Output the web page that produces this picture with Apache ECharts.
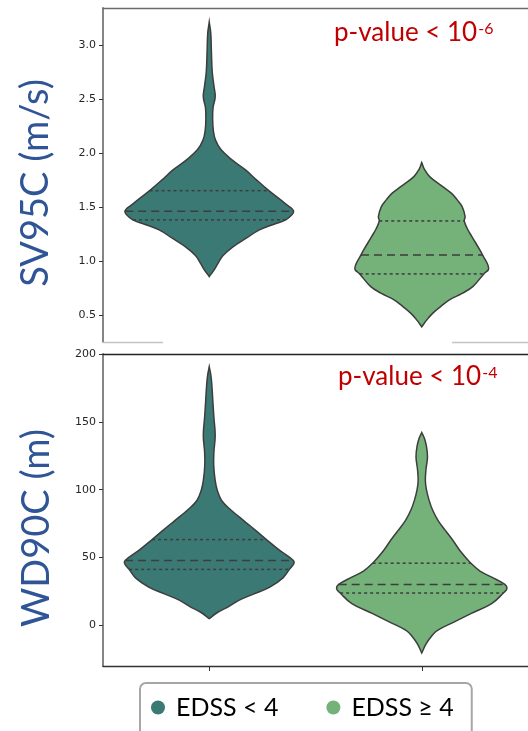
<!DOCTYPE html>
<html>
<head>
<meta charset="utf-8">
<script src="https://cdn.jsdelivr.net/npm/echarts@6/dist/echarts.min.js"></script>
<style>
html,body{margin:0;padding:0;background:#fff}
#chart{width:528px;height:731px}
</style>
</head>
<body>
<div id="chart"></div>
<script>
var groups = ['EDSS < 4', 'EDSS ≥ 4']
var colors = ['#3b7a74', '#74b27a']

// SV95C (m/s) violins: value -> half width (category units, 0.4 = widest)
var svLowY = [0.855, 0.917, 0.98, 1.05, 1.133, 1.213, 1.287, 1.34, 1.38, 1.457, 1.528, 1.648, 1.75, 1.84, 1.93, 2.03, 2.12, 2.21, 2.32, 2.42, 2.52, 2.62, 2.75, 2.95, 3.11, 3.21]
var svLowW = [0, 0.023, 0.042, 0.065, 0.113, 0.176, 0.236, 0.305, 0.359, 0.397, 0.359, 0.282, 0.222, 0.172, 0.11, 0.055, 0.029, 0.019, 0.016, 0.018, 0.028, 0.022, 0.014, 0.010, 0.007, 0]
var svHighY = [0.39, 0.45, 0.515, 0.58, 0.64, 0.70, 0.762, 0.88, 0.93, 1.056, 1.10, 1.225, 1.30, 1.37, 1.41, 1.503, 1.565, 1.627, 1.69, 1.78, 1.85, 1.91]
var svHighW = [0, 0.022, 0.051, 0.09, 0.13, 0.19, 0.24, 0.292, 0.315, 0.286, 0.274, 0.236, 0.214, 0.2, 0.204, 0.19, 0.167, 0.139, 0.097, 0.037, 0.012, 0]
var svQuartLow = [1.38, 1.46, 1.65]
var svQuartHigh = [0.88, 1.056, 1.37]

// WD90C (m) violins
var wdLowY = [4.9, 9.8, 14, 18.4, 23, 28.2, 35, 41.2, 45.4, 47.8, 55, 63.2, 70, 77.2, 85, 92, 100, 106.6, 118, 128, 140, 153, 165, 177.7, 185, 190.6]
var wdLowW = [0, 0.042, 0.093, 0.139, 0.208, 0.285, 0.347, 0.377, 0.398, 0.396, 0.333, 0.269, 0.218, 0.162, 0.102, 0.058, 0.037, 0.028, 0.021, 0.022, 0.028, 0.022, 0.017, 0.012, 0.007, 0]
var wdHighY = [-20.4, -13.5, -8, -3.7, 2.4, 8.6, 16, 23.8, 27, 30.1, 35.5, 40, 45.8, 54, 62.5, 70, 77.2, 85, 91.9, 100, 106.6, 115, 124, 132, 138, 142.1]
var wdHighW = [0, 0.021, 0.046, 0.074, 0.151, 0.231, 0.329, 0.384, 0.401, 0.391, 0.329, 0.274, 0.231, 0.185, 0.147, 0.111, 0.077, 0.051, 0.035, 0.022, 0.017, 0.02, 0.027, 0.022, 0.012, 0]
var wdQuartLow = [41.2, 47.8, 63.2]
var wdQuartHigh = [23.8, 30.1, 45.8]

var svTicks = [0.5, 1.0, 1.5, 2.0, 2.5, 3.0]
var wdTicks = [0, 50, 100, 150, 200]
var pExp = ['-6', '-4']

var edge = '#3d3d3d'

function halfWidth(ys, ws, v) {
    for (var i = 1; i < ys.length; i++) {
        if (v <= ys[i]) {
            var t = (v - ys[i - 1]) / (ys[i] - ys[i - 1])
            return ws[i - 1] + t * (ws[i] - ws[i - 1])
        }
    }
    return 0
}

function violin(ys, ws, quart) {
    return function (params, api) {
        var c = api.value(0)
        var pts = []
        for (var i = 0; i < ys.length; i++) pts.push(api.coord([c + ws[i], ys[i]]))
        for (var j = ys.length - 1; j >= 0; j--) pts.push(api.coord([c - ws[j], ys[j]]))
        var kids = [{
            type: 'polygon',
            shape: {points: pts, smooth: 0.4},
            style: {fill: api.visual('color'), stroke: edge, lineWidth: 1.5}
        }]
        quart.forEach(function (q, k) {
            var w = halfWidth(ys, ws, q)
            var a = api.coord([c - w, q]), b = api.coord([c + w, q])
            kids.push({
                type: 'line',
                shape: {x1: a[0], y1: a[1], x2: b[0], y2: b[1]},
                style: {stroke: edge, lineWidth: 1.5, lineDash: k == 1 ? [8, 5] : [3, 3]}
            })
        })
        return {type: 'group', children: kids}
    }
}

function xAx(grid, pos, lineColor, ticks) {
    return {
        type: 'value', gridIndex: grid, position: pos, min: -0.5, max: 1.5,
        axisLine: {onZero: false, lineStyle: {color: lineColor, width: 1.3}},
        axisTick: ticks ? {show: true, customValues: ticks, length: 5, lineStyle: {color: '#333'}} : {show: false},
        axisLabel: {show: false},
        splitLine: {show: false}
    }
}

function yAx(grid, min, max, ticks, digits) {
    return {
        type: 'value', gridIndex: grid, min: min, max: max,
        axisLine: {show: true, onZero: false, lineStyle: {color: '#858585', width: 2}},
        axisTick: {show: true, customValues: ticks, length: 4, lineStyle: {color: '#333'}},
        axisLabel: {
            customValues: ticks, margin: 7, color: '#262626',
            fontFamily: 'DejaVu Sans', fontSize: 11,
            formatter: function (v) { return v.toFixed(digits) }
        },
        splitLine: {show: false}
    }
}

var pRich = {
    a: {fontFamily: 'Lato', fontSize: 26, fontWeight: 'normal', color: '#c00000', lineHeight: 32},
    b: {fontFamily: 'Lato', fontSize: 16, fontWeight: 'normal', color: '#c00000', lineHeight: 16, verticalAlign: 'top', padding: [4, 0, 0, 1]}
}

var chart = echarts.init(document.getElementById('chart'))
chart.setOption({
    animation: false,
    grid: [
        {left: 103, top: 8, width: 431, height: 334},
        {left: 103, top: 354, width: 431, height: 312}
    ],
    xAxis: [
        xAx(0, 'bottom', '#c4c4c4'),
        xAx(0, 'top', '#6b6b6b'),
        xAx(1, 'bottom', '#333', [0, 1]),
        xAx(1, 'top', '#222')
    ],
    yAxis: [
        yAx(0, 0.25, 3.34, svTicks, 1),
        yAx(1, -30, 200, wdTicks, 0)
    ],
    title: [
        {text: '{a|p-value < 10}{b|' + pExp[0] + '}', left: 329, top: 12, textStyle: {fontWeight: 'normal', rich: pRich}},
        {text: '{a|p-value < 10}{b|' + pExp[1] + '}', left: 333, top: 356, textStyle: {fontWeight: 'normal', rich: pRich}}
    ],
    legend: {
        data: groups, left: 140, top: 683,
        icon: 'circle', itemWidth: 26, itemHeight: 14, itemGap: 48,
        padding: [12, 18, 40, 11],
        borderColor: '#a6a6a6', borderWidth: 2, borderRadius: 6,
        textStyle: {fontFamily: 'Lato', fontSize: 25, color: '#000'},
        selectedMode: false
    },
    graphic: [
        {type: 'rect', z: 50, shape: {x: 163, y: 338, width: 289, height: 8}, style: {fill: '#fff'}},
        {type: 'text', x: 36, y: 183, rotation: Math.PI / 2,
         style: {text: 'SV95C (m/s)', align: 'center', verticalAlign: 'middle', fontFamily: 'Lato', fontSize: 38, fill: '#2f5597'}},
        {type: 'text', x: 37, y: 528, rotation: Math.PI / 2,
         style: {text: 'WD90C (m)', align: 'center', verticalAlign: 'middle', fontFamily: 'Lato', fontSize: 38, fill: '#2f5597'}}
    ],
    series: [
        {type: 'custom', name: groups[0], xAxisIndex: 0, yAxisIndex: 0, itemStyle: {color: colors[0]},
         data: [[0, svQuartLow[1]]], renderItem: violin(svLowY, svLowW, svQuartLow)},
        {type: 'custom', name: groups[1], xAxisIndex: 0, yAxisIndex: 0, itemStyle: {color: colors[1]},
         data: [[1, svQuartHigh[1]]], renderItem: violin(svHighY, svHighW, svQuartHigh)},
        {type: 'custom', name: groups[0], xAxisIndex: 2, yAxisIndex: 1, itemStyle: {color: colors[0]},
         data: [[0, wdQuartLow[1]]], renderItem: violin(wdLowY, wdLowW, wdQuartLow)},
        {type: 'custom', name: groups[1], xAxisIndex: 2, yAxisIndex: 1, itemStyle: {color: colors[1]},
         data: [[1, wdQuartHigh[1]]], renderItem: violin(wdHighY, wdHighW, wdQuartHigh)}
    ]
})
</script>
</body>
</html>
